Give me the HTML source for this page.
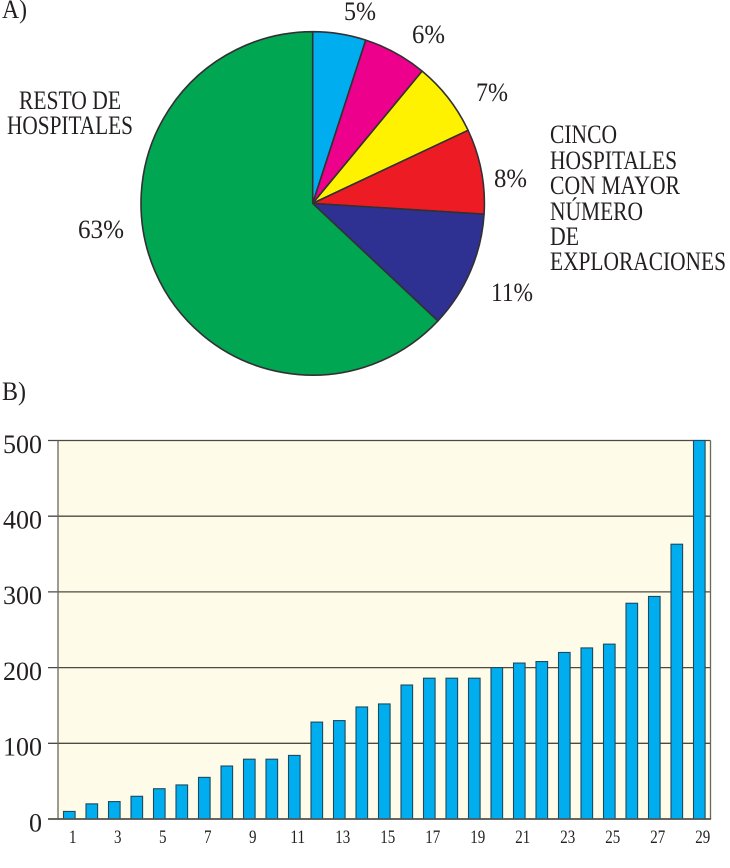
<!DOCTYPE html>
<html lang="es">
<head>
<meta charset="utf-8">
<title>Exploraciones por hospital</title>
<style>
html,body{margin:0;padding:0;background:#fff;width:730px;height:868px;overflow:hidden}
svg{display:block;font-family:"Liberation Serif",serif;fill:#231f20}
</style>
</head>
<body>
<svg id="chart" width="730" height="868" viewBox="0 0 730 868" xmlns="http://www.w3.org/2000/svg">
<g id="pie-layer"></g>
<g font-size="26">
<text x="2" y="18" textLength="25" lengthAdjust="spacingAndGlyphs">A)</text>
<text x="344" y="20" textLength="32" lengthAdjust="spacingAndGlyphs">5%</text>
<text x="412" y="43" textLength="33" lengthAdjust="spacingAndGlyphs">6%</text>
<text x="476" y="101" textLength="32" lengthAdjust="spacingAndGlyphs">7%</text>
<text x="494" y="187" textLength="33" lengthAdjust="spacingAndGlyphs">8%</text>
<text x="491" y="301" textLength="42" lengthAdjust="spacingAndGlyphs">11%</text>
<text x="78" y="238" textLength="46" lengthAdjust="spacingAndGlyphs">63%</text>
<text x="19" y="109" textLength="102" lengthAdjust="spacingAndGlyphs">RESTO DE</text>
<text x="7" y="134" textLength="126" lengthAdjust="spacingAndGlyphs">HOSPITALES</text>
<text x="550" y="143" textLength="67" lengthAdjust="spacingAndGlyphs">CINCO</text>
<text x="550" y="169" textLength="127" lengthAdjust="spacingAndGlyphs">HOSPITALES</text>
<text x="550" y="194" textLength="130" lengthAdjust="spacingAndGlyphs">CON MAYOR</text>
<text x="550" y="220" textLength="93" lengthAdjust="spacingAndGlyphs">NÚMERO</text>
<text x="550" y="245" textLength="29" lengthAdjust="spacingAndGlyphs">DE</text>
<text x="550" y="270" textLength="176" lengthAdjust="spacingAndGlyphs">EXPLORACIONES</text>
<text x="2" y="400" textLength="24" lengthAdjust="spacingAndGlyphs">B)</text>
</g>
<g id="bar-layer"></g>
</svg>
<script>
const pieLabels = ['blue-5', 'magenta-6', 'yellow-7', 'red-8', 'navy-11', 'green-63'];
const pieValues = [5, 6, 7, 8, 11, 63];
const pieColors = ['#00aeef', '#ec008c', '#fff200', '#ed1c24', '#2e3192', '#00a651'];

const hospitals = [1,2,3,4,5,6,7,8,9,10,11,12,13,14,15,16,17,18,19,20,21,22,23,24,25,26,27,28,29];
const exploraciones = [10,20,23,30,40,45,55,70,79,79,84,128,130,148,152,177,186,186,186,200,206,208,220,226,231,285,294,363,500];
const yTicks = [0,100,200,300,400,500];
const xTickLabels = [1,3,5,7,9,11,13,15,17,19,21,23,25,27,29];

const NS = 'http://www.w3.org/2000/svg';
function make(tag, attrs, parent) {
  const el = document.createElementNS(NS, tag);
  for (const k in attrs) el.setAttribute(k, attrs[k]);
  parent.appendChild(el);
  return el;
}

/* pie */
const pieLayer = document.getElementById('pie-layer');
const cx = 312.7, cy = 203.4, r = 171.7;
const pieTotal = pieValues.reduce((a, b) => a + b, 0);
function piePoint(share) {
  const a = share / pieTotal * 2 * Math.PI;
  return [cx + r * Math.sin(a), cy - r * Math.cos(a)];
}
let cumulative = 0;
pieValues.forEach((v, i) => {
  const p0 = piePoint(cumulative);
  const p1 = piePoint(cumulative + v);
  const large = v / pieTotal > 0.5 ? 1 : 0;
  const slice = make('path', {
    d: `M${cx} ${cy}L${p0[0]} ${p0[1]}A${r} ${r} 0 ${large} 1 ${p1[0]} ${p1[1]}Z`,
    fill: pieColors[i], stroke: '#333033', 'stroke-width': 1.6, 'stroke-linejoin': 'round'
  }, pieLayer);
  
  
  cumulative += v;
});

/* bars */
const barLayer = document.getElementById('bar-layer');
const plotLeft = 58, plotRight = 710.5, yZero = 819, yTop = 440.5, yMax = 500;
const firstCenter = 69.3, step = 22.5, barWidth = 11.6;
const yScale = v => yZero - v / yMax * (yZero - yTop);
const xScale = n => firstCenter + (n - 1) * step;

const bg = make('rect', {x: plotLeft, y: yTop, width: plotRight - plotLeft, height: yZero - yTop, fill: '#fffbe9'}, barLayer);



yTicks.forEach(t => {
  const y = yScale(t);
  const line = make('line', {x1: 48, x2: plotRight, y1: y, y2: y, stroke: '#4c4a44', 'stroke-width': t === 0 ? 1.6 : 1.3}, barLayer);
  
  
  const label = make('text', {x: 42, y: y + 12.3, 'font-size': 26, 'text-anchor': 'end'}, barLayer);
  label.textContent = t;
  
  
});

const axisY = make('line', {x1: plotLeft, x2: plotLeft, y1: yTop, y2: yZero, stroke: '#6a675f', 'stroke-width': 1.3}, barLayer);


const axisR = make('line', {x1: plotRight, x2: plotRight, y1: yTop, y2: yZero, stroke: '#6a675f', 'stroke-width': 1.3}, barLayer);



hospitals.forEach((h, i) => {
  const y = yScale(exploraciones[i]);
  const bar = make('rect', {
    x: xScale(h) - barWidth / 2, y: y, width: barWidth, height: yZero - y,
    fill: '#00aeef', stroke: '#1c4a5e', 'stroke-width': 1.1
  }, barLayer);
  
  
});

const axisX = make('line', {x1: 48, x2: plotRight + 0.6, y1: yZero, y2: yZero, stroke: '#55524c', 'stroke-width': 1.6}, barLayer);



xTickLabels.forEach(n => {
  const label = make('text', {
    x: xScale(n) + 3.4, y: 843, 'font-size': 19, 'text-anchor': 'middle',
    textLength: String(n).length * 7.5, lengthAdjust: 'spacingAndGlyphs'
  }, barLayer);
  label.textContent = n;
  
  
});
</script>
</body>
</html>
